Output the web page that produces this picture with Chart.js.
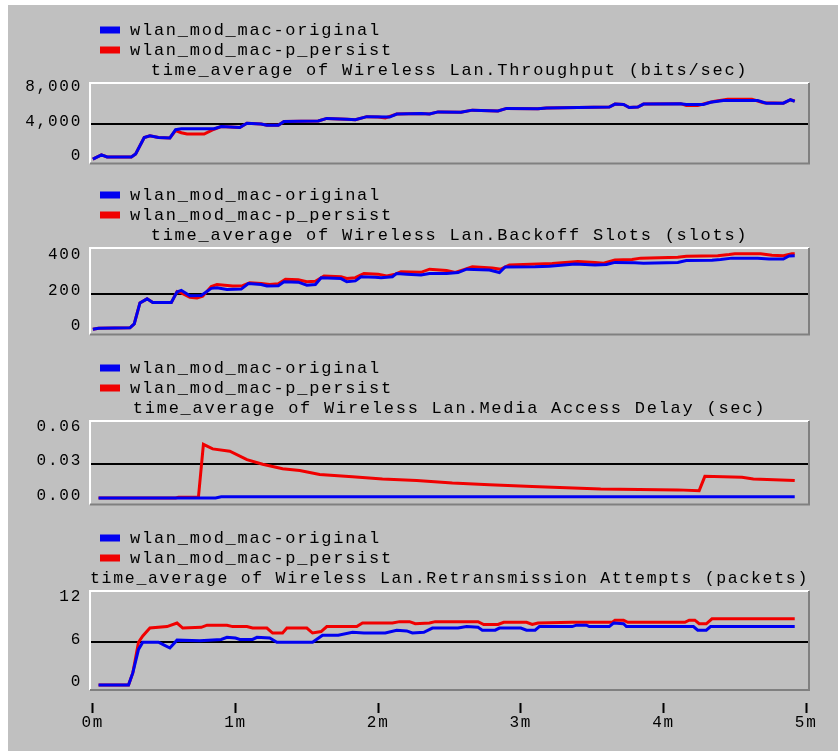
<!DOCTYPE html>
<html>
<head>
<meta charset="utf-8">
<script src="https://cdn.jsdelivr.net/npm/chart.js@4.4.1/dist/chart.umd.min.js"></script>
<style>
  html, body { margin: 0; padding: 0; background: #c0c0c0; }
  body { width: 838px; height: 751px; position: relative; overflow: hidden; }
  #wt { position: absolute; left: 0; top: 0; width: 838px; height: 5px; background: #fff; }
  #wl { position: absolute; left: 0; top: 0; width: 8px; height: 751px; background: #fff; }
  canvas { position: absolute; left: 0; }
</style>
</head>
<body>
<div id="wt"></div><div id="wl"></div>
<canvas id="c1" width="838" height="176" style="top:5px"></canvas>
<canvas id="c2" width="838" height="171" style="top:181px"></canvas>
<canvas id="c3" width="838" height="170" style="top:352px"></canvas>
<canvas id="c4" width="838" height="232" style="top:522px"></canvas>
<script>
// ---------------- DATA ----------------
const seriesNames = ['wlan_mod_mac-original', 'wlan_mod_mac-p_persist'];
const xTicks = [0, 1, 2, 3, 4, 5];

// Throughput (bits/sec)
const thrTimeOrig = [0.00,0.06,0.10,0.27,0.30,0.36,0.40,0.46,0.54,0.58,0.62,0.85,0.90,1.03,1.08,1.18,1.22,1.30,1.34,1.58,1.64,1.78,1.84,1.92,2.08,2.13,2.30,2.36,2.42,2.58,2.66,2.84,2.90,3.12,3.18,3.40,3.62,3.66,3.72,3.76,3.82,3.86,4.12,4.16,4.28,4.33,4.42,4.66,4.72,4.84,4.89,4.92];
const thrOrig     = [0,500,250,250,600,2500,2700,2500,2450,3400,3500,3500,3750,3650,4150,4050,3900,3900,4350,4400,4700,4600,4550,4900,4850,5200,5250,5200,5450,5400,5650,5550,5850,5800,5900,5950,6000,6350,6300,5950,6000,6350,6400,6300,6300,6550,6750,6750,6450,6450,6850,6650];
const thrTimePers = [0.00,0.06,0.10,0.27,0.30,0.36,0.40,0.46,0.54,0.58,0.62,0.66,0.78,0.85,0.90,1.03,1.08,1.18,1.22,1.30,1.34,1.58,1.64,1.78,1.84,1.92,2.00,2.05,2.13,2.30,2.36,2.42,2.58,2.66,2.84,2.90,3.12,3.18,3.40,3.62,3.66,3.72,3.76,3.82,3.86,4.12,4.16,4.24,4.30,4.35,4.45,4.62,4.70,4.84,4.89,4.92];
const thrPers     = [0,500,250,250,600,2500,2700,2500,2450,3300,3050,2900,2900,3450,3750,3650,4150,4050,3900,3900,4350,4400,4700,4600,4550,4900,4850,4750,5200,5250,5200,5450,5400,5650,5550,5850,5800,5900,5950,6000,6350,6300,5950,6000,6350,6400,6200,6200,6450,6650,6900,6900,6500,6450,6850,6700];

// Backoff Slots (slots)
const bkTimeOrig = [0.00,0.04,0.26,0.29,0.33,0.38,0.42,0.55,0.59,0.62,0.68,0.76,0.83,0.87,0.94,1.04,1.09,1.18,1.22,1.30,1.34,1.44,1.50,1.56,1.60,1.74,1.78,1.84,1.88,1.98,2.02,2.10,2.13,2.20,2.30,2.36,2.48,2.56,2.62,2.78,2.85,2.89,3.10,3.20,3.38,3.52,3.60,3.66,3.80,3.86,4.10,4.16,4.34,4.40,4.48,4.66,4.74,4.84,4.88,4.92];
const bkOrig     = [0,6,8,30,148,171,150,150,210,219,188,190,230,233,224,226,257,252,243,245,267,265,248,252,290,285,267,272,295,293,290,295,314,310,305,314,314,319,338,333,319,350,352,355,367,362,364,376,374,371,376,386,388,392,400,400,395,395,412,414];
const bkTimePers = [0.00,0.04,0.26,0.29,0.33,0.38,0.42,0.55,0.59,0.62,0.68,0.73,0.77,0.83,0.87,0.98,1.05,1.10,1.18,1.24,1.30,1.35,1.44,1.50,1.56,1.62,1.74,1.78,1.84,1.90,2.00,2.06,2.12,2.16,2.30,2.36,2.48,2.54,2.60,2.66,2.80,2.86,2.92,3.12,3.22,3.40,3.52,3.58,3.66,3.78,3.84,4.10,4.16,4.38,4.46,4.50,4.68,4.76,4.84,4.90,4.92];
const bkPers     = [0,6,8,30,148,171,150,150,212,205,180,176,186,240,252,243,245,262,258,252,256,281,278,267,270,300,296,286,290,314,310,300,310,324,320,338,330,319,335,352,345,338,362,367,370,381,375,371,390,392,400,405,410,414,420,424,424,416,414,424,424];

// Media Access Delay (sec)
const mdTimeOrig = [0.04,0.86,0.90,4.92];
const mdOrig     = [0.0003,0.0003,0.0013,0.0013];
const mdTimePers = [0.04,0.58,0.60,0.74,0.775,0.84,0.96,1.08,1.19,1.33,1.45,1.59,1.82,2.03,2.27,2.52,2.78,3.08,3.56,4.10,4.25,4.29,4.55,4.63,4.92];
const mdPers     = [0.0003,0.0003,0.0008,0.0008,0.0475,0.0435,0.0415,0.034,0.030,0.026,0.0245,0.021,0.019,0.017,0.0156,0.0134,0.012,0.0104,0.0082,0.0074,0.0067,0.0193,0.0185,0.017,0.0156];

// Retransmission Attempts (packets)
const rtTimeOrig = [0.04,0.25,0.28,0.32,0.35,0.46,0.50,0.54,0.59,0.75,0.90,0.94,1.00,1.03,1.12,1.15,1.24,1.29,1.54,1.61,1.72,1.82,1.90,2.05,2.13,2.20,2.24,2.32,2.38,2.56,2.62,2.70,2.73,2.82,2.85,3.00,3.04,3.10,3.13,3.36,3.39,3.46,3.48,3.62,3.65,3.72,3.74,4.21,4.24,4.30,4.33,4.92];
const rtOrig     = [0,0,1.7,5.0,6.0,6.0,5.6,5.2,6.3,6.2,6.4,6.7,6.6,6.4,6.4,6.7,6.6,6.0,6.0,7.0,7.0,7.4,7.3,7.3,7.7,7.6,7.3,7.4,8.0,8.0,8.2,8.1,7.7,7.7,8.0,8.0,7.7,7.7,8.2,8.2,8.4,8.4,8.2,8.2,8.7,8.6,8.2,8.2,7.7,7.7,8.2,8.2];
const rtTimePers = [0.04,0.25,0.28,0.32,0.35,0.40,0.52,0.59,0.63,0.76,0.80,0.94,0.98,1.08,1.12,1.22,1.26,1.33,1.36,1.50,1.54,1.60,1.64,1.85,1.89,2.10,2.15,2.22,2.26,2.36,2.40,2.70,2.74,2.84,2.88,3.04,3.08,3.12,3.36,3.64,3.66,3.72,3.75,4.15,4.18,4.22,4.25,4.30,4.34,4.92];
const rtPers     = [0,0,1.7,6.0,6.9,8.0,8.2,8.7,8.0,8.1,8.4,8.4,8.2,8.2,8.0,8.0,7.3,7.3,8.0,8.0,7.3,7.5,8.2,8.2,8.7,8.7,8.9,8.9,8.6,8.7,8.9,8.9,8.5,8.5,8.8,8.8,8.5,8.7,8.8,8.8,9.1,9.1,8.8,8.8,9.1,9.1,8.6,8.6,9.3,9.3];

const titles = [
  'time_average of Wireless Lan.Throughput (bits/sec)',
  'time_average of Wireless Lan.Backoff Slots (slots)',
  'time_average of Wireless Lan.Media Access Delay (sec)',
  'time_average of Wireless Lan.Retransmission Attempts (packets)'
];
const yTicks1 = [0, 4000, 8000];
const yTicks2 = [0, 200, 400];
const yTicks3 = [0, 0.03, 0.06];
const yTicks4 = [0, 6, 12];

// ---------------- RENDERING ----------------
const FONT = "'Liberation Mono', 'DejaVu Sans Mono', monospace";
const BLUE = '#0000f0', RED = '#f00000';
const SPACING = '1.75px';
function pts(ts, vs) { return ts.map((t, i) => ({ x: t, y: vs[i] })); }

const decorPlugin = {
  id: 'decor',
  beforeLayout(c) { c.ctx.letterSpacing = SPACING; },
  beforeDraw(c) { c.ctx.letterSpacing = SPACING; },
  beforeDatasetsDraw(c) {
    const ctx = c.ctx, a = c.chartArea;
    ctx.save();
    ctx.lineWidth = 2;
    ctx.strokeStyle = '#ffffff';
    ctx.beginPath(); ctx.moveTo(a.left, a.bottom); ctx.lineTo(a.left, a.top); ctx.lineTo(a.right, a.top); ctx.stroke();
    ctx.strokeStyle = '#808080';
    ctx.beginPath(); ctx.moveTo(a.right, a.top); ctx.lineTo(a.right, a.bottom); ctx.lineTo(a.left, a.bottom); ctx.stroke();
    ctx.restore();
  },
  afterDraw(c) {
    const ctx = c.ctx, a = c.chartArea;
    ctx.save();
    ctx.letterSpacing = SPACING;
    ctx.font = '17px ' + FONT;
    ctx.textBaseline = 'middle';
    ctx.textAlign = 'left';
    c.data.datasets.forEach((ds, i) => {
      const y = a.top - 53 + i * 20;
      ctx.fillStyle = ds.borderColor;
      ctx.fillRect(100, y - 3.5, 20, 7);
      ctx.fillStyle = '#000';
      ctx.fillText(ds.label, 130, y);
    });
    ctx.restore();
  }
};

function makeChart(id, cfg) {
  const mid = cfg.yTicks[1];
  new Chart(document.getElementById(id), {
    type: 'line',
    data: {
      datasets: [
        { label: seriesNames[0], data: pts(cfg.tO, cfg.vO), borderColor: BLUE, backgroundColor: BLUE, borderWidth: 3, pointRadius: 0, tension: 0 },
        { label: seriesNames[1], data: pts(cfg.tP, cfg.vP), borderColor: RED, backgroundColor: RED, borderWidth: 3, pointRadius: 0, tension: 0 }
      ]
    },
    options: {
      responsive: false,
      animation: false,
      events: [],
      layout: { padding: { top: cfg.padTop, bottom: cfg.padBottom, left: 0, right: 29 } },
      plugins: {
        legend: { display: false },
        tooltip: { enabled: false },
        title: {
          display: true, text: cfg.title, fullSize: false, align: 'center', color: '#000',
          font: { family: FONT, size: 17, weight: 'normal', lineHeight: 1.2 },
          padding: { top: 0, bottom: 2.8 }
        }
      },
      scales: {
        x: {
          type: 'linear', min: -0.02, max: 5.02, display: cfg.showX,
          afterBuildTicks: s => { s.ticks = xTicks.map(v => ({ value: v })); },
          grid: {
            display: true, drawOnChartArea: false, drawTicks: true,
            tickLength: 23, tickWidth: 2, tickColor: '#000',
            tickBorderDash: [0, 13, 10, 0], color: 'rgba(0,0,0,0)'
          },
          border: { display: false },
          ticks: { color: '#000', padding: 0, maxRotation: 0, autoSkip: false,
                   font: { family: FONT, size: 16, lineHeight: 1.2 }, callback: v => v + 'm' }
        },
        y: {
          type: 'linear', min: cfg.yMin, max: cfg.yMax,
          afterBuildTicks: s => { s.ticks = cfg.yTicks.map(v => ({ value: v })); },
          afterFit: s => { s.width = 90; },
          grid: {
            drawTicks: false, lineWidth: 2,
            color: ctx => (ctx.tick && Math.abs(ctx.tick.value - mid) < 1e-9) ? '#000' : 'rgba(0,0,0,0)'
          },
          border: { display: false },
          ticks: { color: '#000', padding: 8, labelOffset: -3, autoSkip: false,
                   font: { family: FONT, size: 16, lineHeight: 1.2 }, callback: cfg.fmt }
        }
      }
    },
    plugins: [decorPlugin]
  });
}

makeChart('c1', { tO: thrTimeOrig, vO: thrOrig, tP: thrTimePers, vP: thrPers, title: titles[0],
  yMin: -490, yMax: 8780, yTicks: yTicks1, padTop: 54.8, padBottom: 3, showX: false,
  fmt: v => Number(v).toLocaleString('en-US') });
makeChart('c2', { tO: bkTimeOrig, vO: bkOrig, tP: bkTimePers, vP: bkPers, title: titles[1],
  yMin: -29, yMax: 457, yTicks: yTicks2, padTop: 43.8, padBottom: 2, showX: false,
  fmt: v => String(v) });
makeChart('c3', { tO: mdTimeOrig, vO: mdOrig, tP: mdTimePers, vP: mdPers, title: titles[2],
  yMin: -0.0054, yMax: 0.0681, yTicks: yTicks3, padTop: 45.8, padBottom: 2, showX: false,
  fmt: v => Number(v).toFixed(2) });
makeChart('c4', { tO: rtTimeOrig, vO: rtOrig, tP: rtTimePers, vP: rtPers, title: titles[3],
  yMin: -0.7, yMax: 13.2, yTicks: yTicks4, padTop: 45.8, padBottom: 21.8, showX: true,
  fmt: v => String(v) });
</script>
</body>
</html>
